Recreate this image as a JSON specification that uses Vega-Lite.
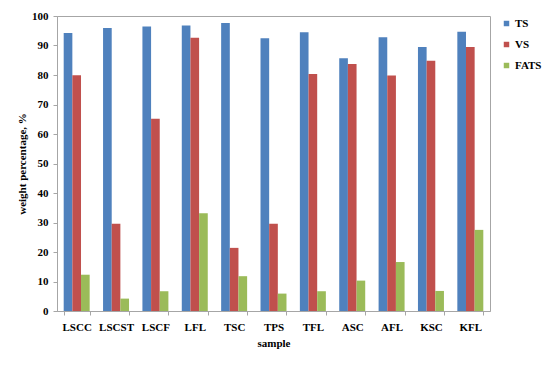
{
  "$schema": "https://vega.github.io/schema/vega-lite/v6.json",
  "autosize": {"type": "none"},
  "padding": {"left": 57, "top": 16, "right": 60, "bottom": 55},
  "width": 433,
  "height": 295,
  "background": "white",
  "data": {
    "values": [
      {"sample": "LSCC", "series": "TS", "value": 94.2},
      {"sample": "LSCC", "series": "VS", "value": 79.9},
      {"sample": "LSCC", "series": "FATS", "value": 12.3},
      {"sample": "LSCST", "series": "TS", "value": 95.9},
      {"sample": "LSCST", "series": "VS", "value": 29.6},
      {"sample": "LSCST", "series": "FATS", "value": 4.2},
      {"sample": "LSCF", "series": "TS", "value": 96.4},
      {"sample": "LSCF", "series": "VS", "value": 65.2},
      {"sample": "LSCF", "series": "FATS", "value": 6.7},
      {"sample": "LFL", "series": "TS", "value": 96.8},
      {"sample": "LFL", "series": "VS", "value": 92.6},
      {"sample": "LFL", "series": "FATS", "value": 33.1},
      {"sample": "TSC", "series": "TS", "value": 97.6},
      {"sample": "TSC", "series": "VS", "value": 21.4},
      {"sample": "TSC", "series": "FATS", "value": 11.8},
      {"sample": "TPS", "series": "TS", "value": 92.5},
      {"sample": "TPS", "series": "VS", "value": 29.6},
      {"sample": "TPS", "series": "FATS", "value": 5.9},
      {"sample": "TFL", "series": "TS", "value": 94.5},
      {"sample": "TFL", "series": "VS", "value": 80.3},
      {"sample": "TFL", "series": "FATS", "value": 6.7},
      {"sample": "ASC", "series": "TS", "value": 85.7},
      {"sample": "ASC", "series": "VS", "value": 83.7},
      {"sample": "ASC", "series": "FATS", "value": 10.3},
      {"sample": "AFL", "series": "TS", "value": 92.8},
      {"sample": "AFL", "series": "VS", "value": 79.8},
      {"sample": "AFL", "series": "FATS", "value": 16.6},
      {"sample": "KSC", "series": "TS", "value": 89.5},
      {"sample": "KSC", "series": "VS", "value": 84.8},
      {"sample": "KSC", "series": "FATS", "value": 6.8},
      {"sample": "KFL", "series": "TS", "value": 94.7},
      {"sample": "KFL", "series": "VS", "value": 89.5},
      {"sample": "KFL", "series": "FATS", "value": 27.5}
    ]
  },
  "mark": {"type": "bar"},
  "encoding": {
    "x": {
      "field": "sample",
      "type": "nominal",
      "sort": null,
      "scale": {"paddingInner": 0.34, "paddingOuter": 0.17},
      "axis": {
        "title": "sample",
        "labelAngle": 0,
        "tickBand": "extent",
        "tickSize": 4,
        "labelPadding": 6,
        "titlePadding": 5
      }
    },
    "xOffset": {
      "field": "series",
      "type": "nominal",
      "scale": {"domain": ["TS", "VS", "FATS"], "paddingInner": 0, "paddingOuter": 0}
    },
    "y": {
      "field": "value",
      "type": "quantitative",
      "scale": {"domain": [0, 100]},
      "axis": {
        "title": "weight percentage, %",
        "values": [0, 10, 20, 30, 40, 50, 60, 70, 80, 90, 100],
        "grid": false,
        "tickSize": 4,
        "labelPadding": 5,
        "titlePadding": 4
      }
    },
    "color": {
      "field": "series",
      "type": "nominal",
      "scale": {"domain": ["TS", "VS", "FATS"], "range": ["#4F81BD", "#C0504D", "#9BBB59"]},
      "legend": {
        "title": null,
        "orient": "none",
        "legendX": 444,
        "legendY": 2,
        "symbolType": "square",
        "symbolSize": 30,
        "rowPadding": 9,
        "labelOffset": 3
      }
    }
  },
  "config": {
    "font": "Liberation Serif",
    "view": {"stroke": "#a6a6a6", "strokeWidth": 1},
    "axis": {
      "labelFont": "Liberation Serif",
      "titleFont": "Liberation Serif",
      "labelFontWeight": "bold",
      "titleFontWeight": "bold",
      "labelFontSize": 11,
      "titleFontSize": 11,
      "labelColor": "#000000",
      "titleColor": "#000000",
      "domainColor": "#a6a6a6",
      "tickColor": "#a6a6a6"
    },
    "legend": {
      "labelFont": "Liberation Serif",
      "labelFontWeight": "bold",
      "labelFontSize": 11,
      "labelColor": "#000000",
      "symbolStrokeWidth": 0
    }
  }
}
